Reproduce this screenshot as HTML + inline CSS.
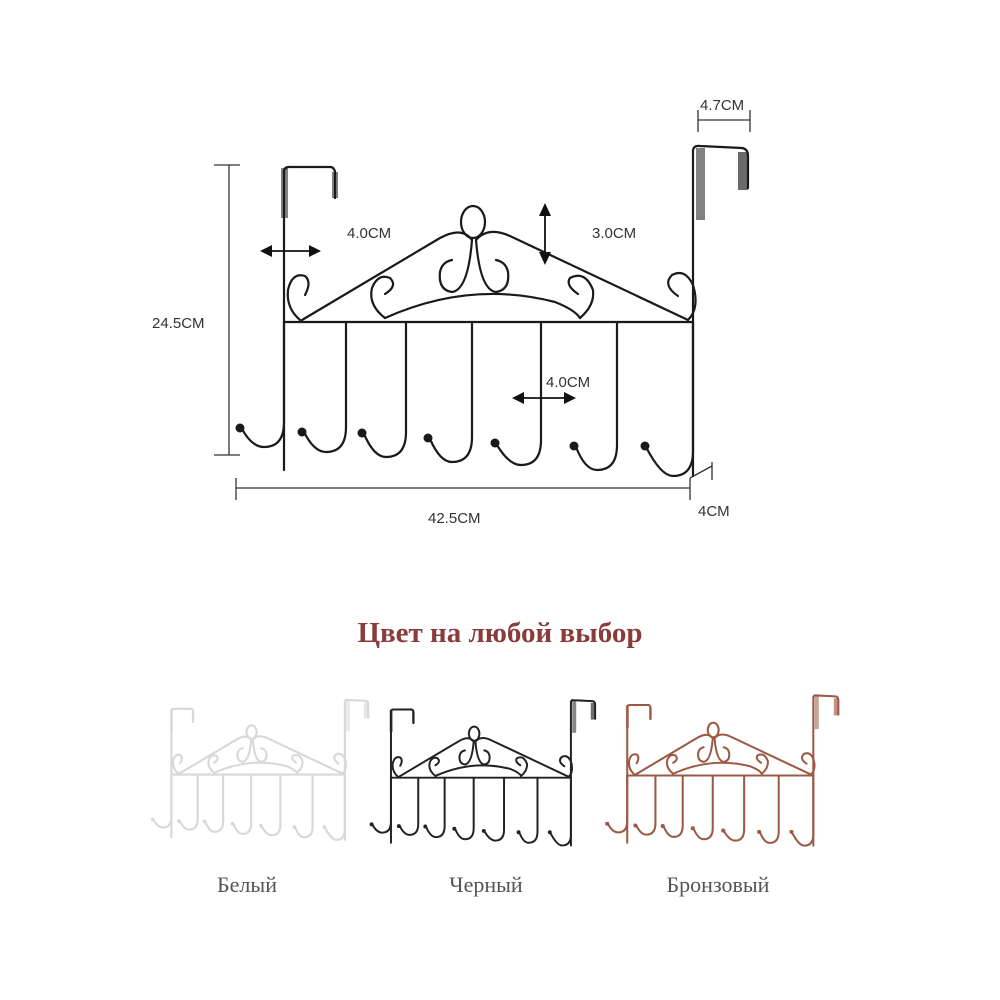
<!DOCTYPE html>
<html><head><meta charset="utf-8"><style>
body{margin:0;background:#fff}
svg{display:block}
</style></head><body>
<svg width="1000" height="1000" viewBox="0 0 1000 1000" xmlns="http://www.w3.org/2000/svg">
<defs>
<g id="h" fill="none" stroke-linecap="round" stroke-linejoin="round">
  <!-- over-door hangers -->
  <path d="M284 470 V172 Q284 167 289 167 L331 167 Q335 168 335 173 V198" />
  <rect x="281" y="168" width="7" height="50" fill="currentColor" opacity="0.55" stroke="none"/>
  <rect x="332" y="172" width="6" height="26" fill="currentColor" opacity="0.55" stroke="none"/>
  <path d="M693 476 V150 Q694 145 700 146 L742 148 Q748 149 748 156 V188" />
  <rect x="696" y="148" width="9" height="72" fill="currentColor" opacity="0.55" stroke="none"/>
  <rect x="738" y="152" width="10" height="38" fill="currentColor" opacity="0.65" stroke="none"/>
  <!-- bar -->
  <path d="M284 322 H693" />
  <!-- hooks -->
  <path d="M284 322 V422 Q284 447 264 447 Q252 447 242 429"/>
  <path d="M346 322 V427 Q346 452 326 452 Q314 452 304 432"/>
  <path d="M406 322 V432 Q406 457 386 457 Q374 457 364 434"/>
  <path d="M472 322 V437 Q472 462 452 462 Q440 462 430 439"/>
  <path d="M541 322 V440 Q541 465 521 465 Q509 465 497 445"/>
  <path d="M617 322 V445 Q617 470 597 470 Q585 470 576 447"/>
  <path d="M693 322 V451 Q693 476 673 476 Q661 476 646 447"/>
  <!-- top triangle lines -->
  <path d="M302 320 L440 238 Q462 226 472 240"/>
  <path d="M688 320 L510 236 Q488 226 476 240"/>
  <!-- center loop -->
  <ellipse cx="473" cy="222" rx="12" ry="16"/>
  <!-- center scrolls -->
  <path d="M472 240 Q468 290 452 292 Q438 290 440 272 Q442 262 452 260"/>
  <path d="M476 240 Q480 290 496 292 Q510 290 508 272 Q506 262 496 260"/>
  <!-- inner arch -->
  <path d="M385 318 Q470 280 555 302 Q575 310 580 318"/>
  <!-- side scrolls -->
  <path d="M300 320 Q286 308 288 290 Q292 272 305 276 Q312 282 305 295"/>
  <path d="M385 318 Q368 305 372 288 Q378 273 390 278 Q398 286 385 294"/>
  <path d="M580 318 Q595 305 593 290 Q585 270 570 278 Q565 285 578 294"/>
  <path d="M688 320 Q700 308 693 285 Q685 268 672 275 Q662 285 678 296"/>
</g>
<g id="balls" stroke="none" fill="currentColor">
  <circle cx="240" cy="428" r="4.5"/><circle cx="302" cy="432" r="4.5"/>
  <circle cx="362" cy="433" r="4.5"/><circle cx="428" cy="438" r="4.5"/>
  <circle cx="495" cy="443" r="4.5"/><circle cx="574" cy="446" r="4.5"/>
  <circle cx="645" cy="446" r="4.5"/>
</g>
</defs>

<!-- main -->
<g style="color:#1a1a1a" stroke="#1a1a1a" stroke-width="2.2">
  <use href="#h"/><use href="#balls"/>
</g>

<!-- dimension lines -->
<g stroke="#333" stroke-width="1.3" fill="none">
  <path d="M229 165 V455 M214 165 H240 M214 455 H240"/>
  <path d="M236 478 V500 M236 488 H690 M690 478 V500"/>
  <path d="M690 478 L712 466 M712 462 V480"/>
  <path d="M698 110 V132 M750 110 V132 M698 120 H750"/>
</g>
<!-- arrows -->
<g stroke="#111" stroke-width="1.8" fill="#111">
  <path d="M266 251 H315" /><path d="M260 251 L272 245 L272 257 Z M321 251 L309 245 L309 257 Z" stroke="none"/>
  <path d="M545 210 V258"/><path d="M545 203 L539 216 L551 216 Z M545 265 L539 252 L551 252 Z" stroke="none"/>
  <path d="M518 398 H570"/><path d="M512 398 L524 392 L524 404 Z M576 398 L564 392 L564 404 Z" stroke="none"/>
</g>

<g font-family="Liberation Sans, sans-serif" font-size="15" fill="#333">
  <text x="347" y="238">4.0CM</text>
  <text x="592" y="238">3.0CM</text>
  <text x="546" y="387">4.0CM</text>
  <text x="152" y="328">24.5CM</text>
  <text x="428" y="523">42.5CM</text>
  <text x="698" y="516">4CM</text>
  <text x="700" y="110">4.7CM</text>
</g>

<text x="500" y="642" text-anchor="middle" font-family="Liberation Serif, serif" font-weight="bold" font-size="29" fill="#8a3b3b">Цвет на любой выбор</text>

<!-- small variants -->
<g transform="translate(51,638) scale(0.424)" style="color:#d8d8d8" stroke="#d8d8d8" stroke-width="5">
  <use href="#h"/><use href="#balls"/>
</g>
<g transform="translate(266,636) scale(0.44)" style="color:#222" stroke="#222" stroke-width="4.5">
  <use href="#h"/><use href="#balls"/>
</g>
<g transform="translate(498,629) scale(0.455)" style="color:#9b5a45" stroke="#9b5a45" stroke-width="4.5">
  <use href="#h"/><use href="#balls"/>
</g>

<g font-family="Liberation Serif, serif" font-size="22" fill="#555" text-anchor="middle">
  <text x="247" y="892">Белый</text>
  <text x="486" y="892">Черный</text>
  <text x="718" y="892">Бронзовый</text>
</g>
</svg>
</body></html>
